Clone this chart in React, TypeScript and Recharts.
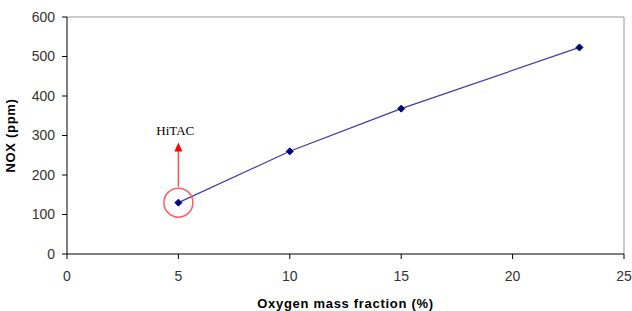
import React from "react";
import { LineChart, Line, XAxis, YAxis, ReferenceLine, ReferenceDot } from "recharts";

const oxygenFraction = [5, 10, 15, 23];
const noxPpm = [130, 260, 368, 523];
const xTicks = [0, 5, 10, 15, 20, 25];
const yTicks = [0, 100, 200, 300, 400, 500, 600];
const hitacPoint = { x: 5, y: 130 };
const hitacArrow = { from: 170, to: 282 };
const hitacLabel = { x: 4.86, y: 313 };

const data = oxygenFraction.map((x, i) => ({ x, y: noxPpm[i] }));

const Diamond = (props: any) => {
  const { cx, cy } = props;
  if (cx == null || cy == null) return null;
  const s = 3.5;
  return (
    <polygon
      points={`${cx},${cy - s} ${cx + s},${cy} ${cx},${cy + s} ${cx - s},${cy}`}
      fill="#000080"
      stroke="#000080"
    />
  );
};

const Arrow = (props: any) => {
  const { x1, y1, x2, y2 } = props;
  if (x1 == null) return null;
  const tipY = Math.min(y1, y2);
  const baseY = Math.max(y1, y2);
  return (
    <g>
      <line x1={x1} y1={baseY} x2={x1} y2={tipY + 6} stroke="#ff5050" strokeWidth={1.5} />
      <polygon points={`${x1},${tipY} ${x1 - 4},${tipY + 9} ${x1 + 4},${tipY + 9}`} fill="#ff0000" />
    </g>
  );
};

const tickStyle = { fontFamily: "Liberation Sans, Arial, sans-serif", fontSize: 14, fill: "#333" };
const titleStyle = {
  fontFamily: "Liberation Sans, Arial, sans-serif",
  fontSize: 13,
  fontWeight: "bold",
  fill: "#000",
  letterSpacing: 0.7,
};

export default function App() {
  return (
    <div style={{ position: "absolute", left: 0, top: 0, background: "#fff" }}>
      <LineChart width={632} height={311} data={data} margin={{ top: 17, right: 8, left: 0, bottom: 0 }}>
        <XAxis
          dataKey="x"
          type="number"
          domain={[0, 25]}
          ticks={xTicks}
          height={57}
          stroke="#000"
          tickSize={5}
          tick={tickStyle}
          tickMargin={12}
          label={{
            value: "Oxygen mass fraction (%)",
            position: "insideBottom",
            offset: 3,
            style: titleStyle,
          }}
        />
        <YAxis
          type="number"
          domain={[0, 600]}
          ticks={yTicks}
          width={67}
          stroke="#000"
          tickSize={5}
          tick={tickStyle}
          tickMargin={7}
          label={{
            value: "NOX (ppm)",
            angle: -90,
            position: "insideLeft",
            offset: 10,
            style: { ...titleStyle, textAnchor: "middle" },
          }}
        />
        <ReferenceLine y={600} stroke="#999" strokeWidth={1} />
        <ReferenceLine x={25} stroke="#999" strokeWidth={1} />
        <Line
          dataKey="y"
          stroke="#3a3aa8"
          strokeWidth={1.2}
          dot={<Diamond />}
          activeDot={false}
          isAnimationActive={false}
        />
        <ReferenceDot x={hitacPoint.x} y={hitacPoint.y} r={14.5} fill="none" stroke="#ff6060" strokeWidth={1.5} />
        <ReferenceLine
          segment={[
            { x: hitacPoint.x, y: hitacArrow.from },
            { x: hitacPoint.x, y: hitacArrow.to },
          ]}
          shape={<Arrow />}
        />
        <ReferenceDot
          x={hitacLabel.x}
          y={hitacLabel.y}
          r={0}
          fill="none"
          stroke="none"
          label={{
            value: "HiTAC",
            position: "center",
            style: { fontFamily: "Liberation Serif, Times New Roman, serif", fontSize: 13, fill: "#000" },
          }}
        />
      </LineChart>
    </div>
  );
}
